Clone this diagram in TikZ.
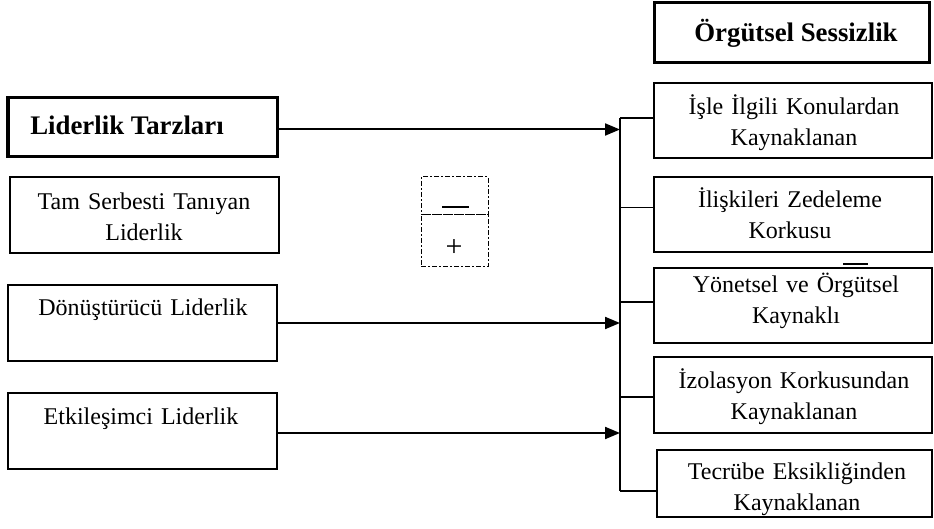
\documentclass[tikz,border=0pt]{standalone}
\usepackage{fontspec}
\setmainfont{Liberation Serif}
\usetikzlibrary{arrows.meta,fit}
\tikzset{
  thinbox/.style={draw,line width=0.6pt,inner sep=0pt},
  thickbox/.style={draw,line width=1.5pt,inner sep=0pt},
  ddbox/.style={draw,line width=0.5pt,inner sep=0pt,dash pattern=on 2.5pt off 1.2pt on 0.6pt off 1.2pt},
  txt/.style={anchor=base,align=center,text width=140pt,inner sep=0pt,font=\fontsize{12}{15.5}\selectfont},
  btxt/.style={anchor=base,inner sep=0pt,font=\fontsize{13.4}{16}\selectfont\bfseries},
  arr/.style={line width=1pt,-{Triangle[length=7.5pt,width=6pt]}},
  stub/.style={line width=0.6pt},
  bus/.style={line width=0.9pt}
}
\begin{document}
\begin{tikzpicture}[x=0.5pt,y=-0.5pt]
\useasboundingbox (0,0) rectangle (934,529);
% left boxes
\node[thickbox,fit={(8,98)(277,157)}] (lt) {};
\node[btxt] (ltt) at (127,135) {Liderlik Tarzları};
\node[thinbox,fit={(10,177)(279,253)}] (l1) {};
\node[txt] (l1t) at (144,210) {Tam Serbesti Tanıyan\\Liderlik};
\node[thinbox,fit={(8,285)(277,361)}] (l2) {};
\node[txt] (l2t) at (143,316) {Dönüştürücü Liderlik};
\node[thinbox,fit={(8,393)(277,469)}] (l3) {};
\node[txt] (l3t) at (141,425) {Etkileşimci Liderlik};
% right boxes
\node[thickbox,fit={(654,3)(929,63)}] (os) {};
\node[btxt] (ost) at (796,42) {Örgütsel Sessizlik};
\node[thinbox,fit={(654,83)(932,158)}] (r1) {};
\node[txt] (r1t) at (794,115) {İşle İlgili Konulardan\\Kaynaklanan};
\node[thinbox,fit={(654,177)(932,252)}] (r2) {};
\node[txt] (r2t) at (790,208) {İlişkileri Zedeleme\\Korkusu};
\node[thinbox,fit={(654,268)(932,343)}] (r3) {};
\node[txt] (r3t) at (796,293) {Yönetsel ve Örgütsel\\Kaynaklı};
\node[thinbox,fit={(654,357)(932,433)}] (r4) {};
\node[txt] (r4t) at (794,389) {İzolasyon Korkusundan\\Kaynaklanan};
\node[thinbox,fit={(657,450)(932,517)}] (r5) {};
\node[txt] (r5t) at (797,480) {Tecrübe Eksikliğinden\\Kaynaklanan};
% bus
\coordinate (bt) at (620,118);
\coordinate (bb) at (620,491);
\draw[bus] (bt) -- (bb);
\draw[stub] (bt) -- (bt -| r1.west);
\draw[stub] ([yshift=3.5pt]r2.west -| bt) -- ([yshift=3.5pt]r2.west);
\draw[stub] ([yshift=1.75pt]r3.west -| bt) -- ([yshift=1.75pt]r3.west);
\draw[stub] ([yshift=-1pt]r4.west -| bt) -- ([yshift=-1pt]r4.west);
\draw[stub] (bb) -- (bb -| r5.west);
% arrows
\draw[arr] ([yshift=-1pt]lt.east) -- ([yshift=-1pt]lt.east -| bt);
\draw[arr] (l2.east) -- (l2.east -| bt);
\draw[arr] ([yshift=-1pt]l3.east) -- ([yshift=-1pt]l3.east -| bt);
% sign boxes
\node[ddbox,fit={(421,177)(488,215)}] (minus) {};
\node[ddbox,fit={(421,215)(488,267)}] (plus) {};
\draw[line width=1pt] (442,207) -- (469,207);
\node[inner sep=0pt,font=\fontsize{15}{16}\selectfont] (plust) at (454,248) {+};
% small dash
\draw[line width=1pt] (843,264) -- (868,264);
\end{tikzpicture}
\end{document}
